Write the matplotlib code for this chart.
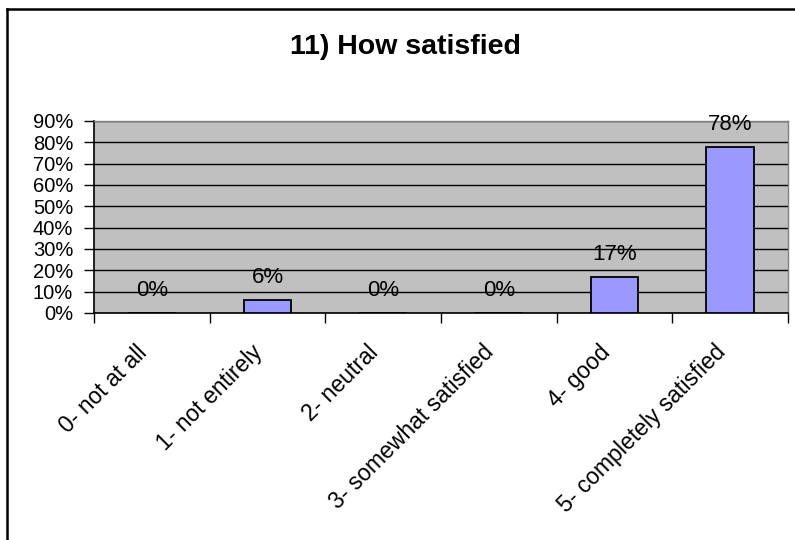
import numpy as np
import matplotlib
matplotlib.use("Agg")
import matplotlib.pyplot as plt
from matplotlib.ticker import PercentFormatter, FixedLocator

plt.rcParams["font.family"] = ["Liberation Sans", "DejaVu Sans"]

categories = ["0- not at all", "1- not entirely", "2- neutral",
              "3- somewhat satisfied", "4- good", "5- completely satisfied"]
shares = [0, 6, 0, 0, 17, 78]  # percent of respondents
title = "11) How satisfied"

fig = plt.figure(figsize=(7.95, 5.4), dpi=100)
ax = fig.add_axes([94 / 795, 1 - 313 / 540, (788 - 94) / 795, (313 - 121) / 540])

x = np.arange(len(categories))
ax.bar(x, shares, width=0.41, color="#9999FF", edgecolor="black", linewidth=1.3, zorder=3)

for xi, v in zip(x, shares):
    ax.annotate(f"{v}%", (xi, v), xytext=(0, 16), textcoords="offset points",
                ha="center", va="center", fontsize=16, zorder=4)

ax.set_xlim(-0.5, len(categories) - 0.5)
ax.set_ylim(0, 90)
ax.set_facecolor("#C0C0C0")
ax.set_yticks(np.arange(0, 91, 10))
ax.yaxis.set_major_formatter(PercentFormatter(decimals=0))
ax.grid(axis="y", color="black", linewidth=1, zorder=1)

# category labels centred, ticks on the boundaries
ax.set_xticks(x)
ax.set_xticklabels(categories, rotation=45, ha="right", fontsize=16.5)
ax.tick_params(axis="x", length=0, pad=20)
ax.xaxis.set_minor_locator(FixedLocator(np.arange(-0.5, len(categories), 1.0)))
ax.tick_params(axis="x", which="minor", length=7, width=1, color="black", direction="out")
ax.tick_params(axis="y", length=7, width=1, direction="out", pad=8, labelsize=14.5)

ax.spines["left"].set_color("black")
ax.spines["bottom"].set_color("black")
ax.spines["left"].set_linewidth(1.2)
ax.spines["bottom"].set_linewidth(1.2)
for s in ("top", "right"):
    ax.spines[s].set_color("#808080")
    ax.spines[s].set_linewidth(1)

fig.text((289 + 522) / 2 / 795, 1 - 47 / 540, title, ha="center", va="center",
         fontsize=20.5, fontweight="bold")

# chart frame (left and top edges fall inside the canvas)
fig.add_artist(plt.Line2D([6.5 / 795, 6.5 / 795], [0, 1 - 8.5 / 540], color="black",
                          linewidth=1.8, transform=fig.transFigure))
fig.add_artist(plt.Line2D([6.5 / 795, 1], [1 - 8.5 / 540, 1 - 8.5 / 540], color="black",
                          linewidth=1.8, transform=fig.transFigure))

fig.savefig("out.png", dpi=100)
